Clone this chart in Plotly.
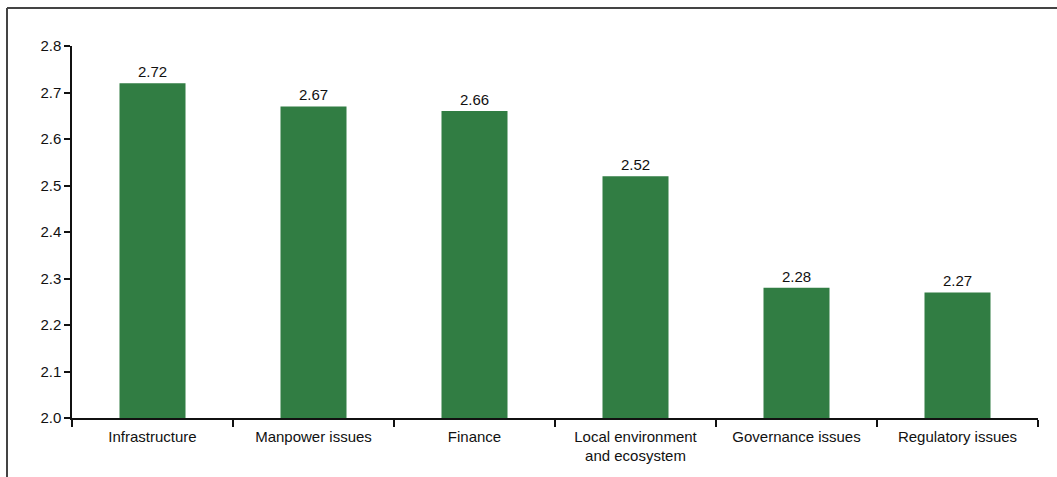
import plotly.graph_objects as go

categories = ["Infrastructure", "Manpower issues", "Finance",
              "Local environment<br>and ecosystem", "Governance issues", "Regulatory issues"]
values = [2.72, 2.67, 2.66, 2.52, 2.28, 2.27]
labels = ["2.72", "2.67", "2.66", "2.52", "2.28", "2.27"]
y_ticks = [2.0, 2.1, 2.2, 2.3, 2.4, 2.5, 2.6, 2.7, 2.8]

W, H = 1057, 477
L, R, T, B = 72, 19, 46, 59
pw, ph = W - L - R, H - T - B

def px(x):
    return (x - L) / pw

def py(y):
    return (H - B - y) / ph

FONT = "Liberation Sans, Arial, sans-serif"
FS = 15

fig = go.Figure(go.Bar(
    x=categories, y=values, width=0.41,
    marker=dict(color="#317d43", line=dict(width=0)),
    text=labels, textposition="outside", cliponaxis=False,
    textfont=dict(size=FS, color="#111111"),
))

fig.update_layout(
    width=W, height=H,
    margin=dict(l=L, r=R, t=T, b=B),
    paper_bgcolor="white", plot_bgcolor="white",
    font=dict(family=FONT, size=FS, color="#111111"),
    showlegend=False,
    bargap=0.59,
    xaxis=dict(
        showline=True, linecolor="#111111", linewidth=1.5,
        ticks="outside", tickson="boundaries", ticklen=7, tickcolor="#111111", tickwidth=1.5,
        showgrid=False, tickfont=dict(size=FS), ticklabelstandoff=4,
    ),
    yaxis=dict(
        range=[2.0, 2.8], tickvals=y_ticks, ticktext=[f"{v:.1f}" for v in y_ticks],
        showline=True, linecolor="#111111", linewidth=1.5,
        ticks="outside", ticklen=6, tickcolor="#111111", tickwidth=1.5,
        showgrid=False, zeroline=False, tickfont=dict(size=FS),
    ),
    shapes=[
        dict(type="line", xref="paper", yref="paper",
             x0=px(7), y0=py(477), x1=px(7), y1=py(8),
             line=dict(color="#444444", width=2)),
        dict(type="line", xref="paper", yref="paper",
             x0=px(7), y0=py(8), x1=px(1057), y1=py(8),
             line=dict(color="#444444", width=2)),
    ],
)

fig.write_html("out.html", config={"displayModeBar": False},
               post_script="document.body.style.margin='0';document.body.style.overflow='hidden';")
